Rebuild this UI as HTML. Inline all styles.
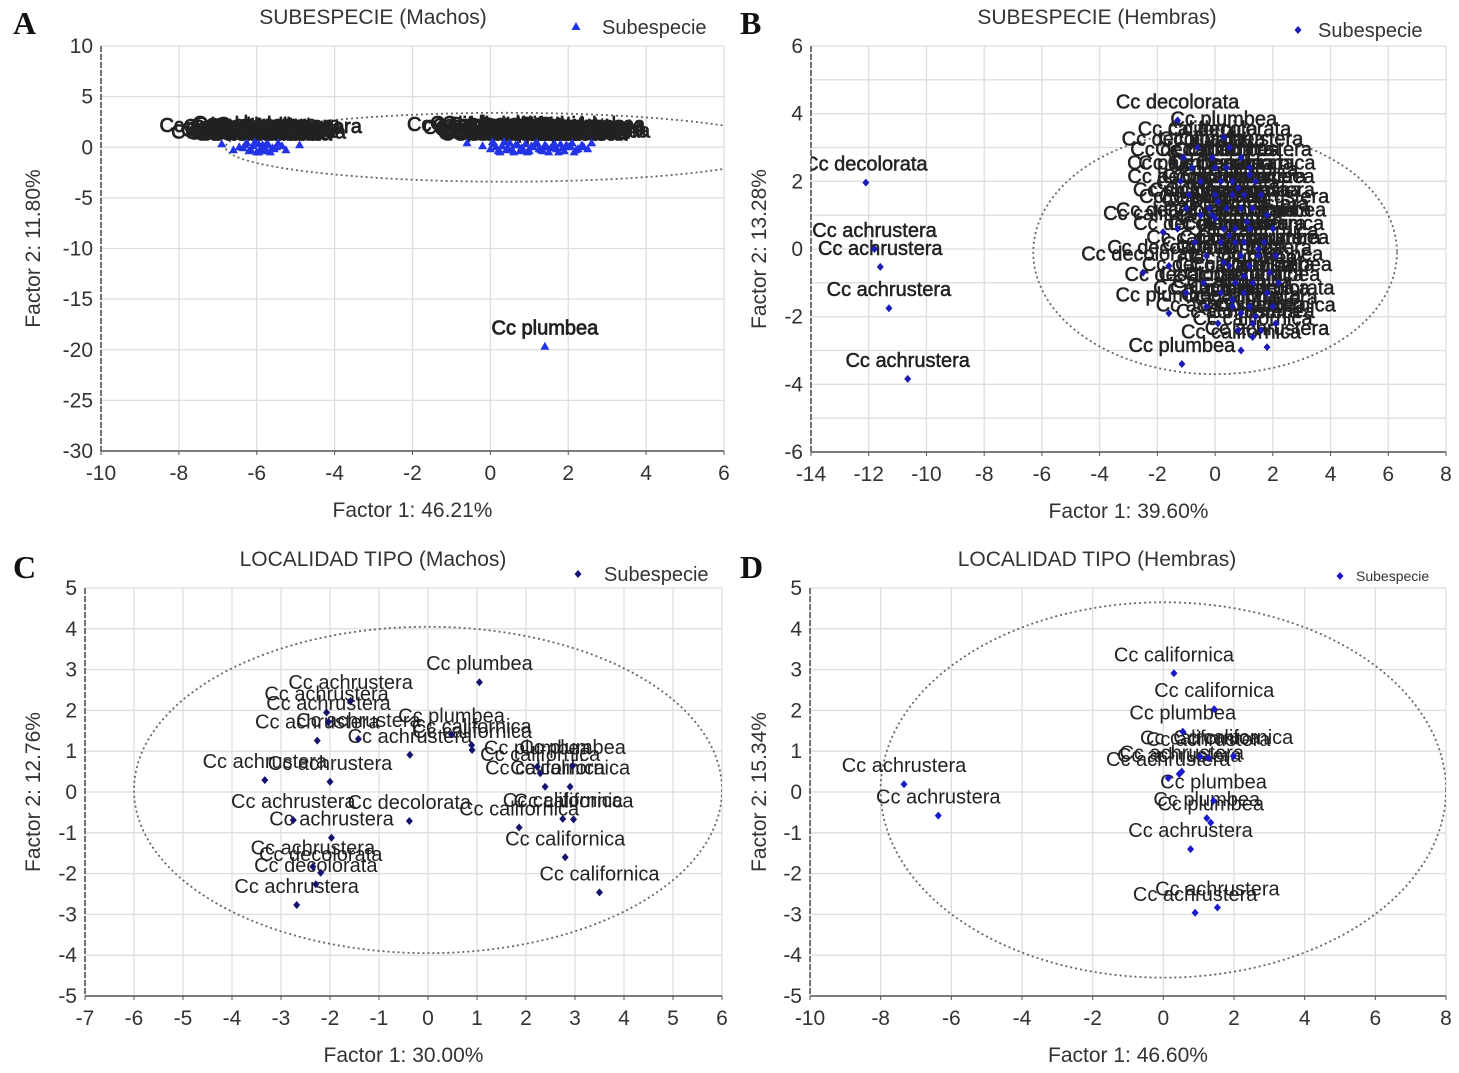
<!DOCTYPE html>
<html><head><meta charset="utf-8"><style>
html,body{margin:0;padding:0;background:#fff;}
svg{display:block;font-family:"Liberation Sans",Arial,sans-serif;}
</style></head><body>
<svg id="fig" width="1459" height="1073" viewBox="0 0 1459 1073" xmlns="http://www.w3.org/2000/svg"></svg>
<script>
// ---- data ----
const NAMES = {a:'Cc achrustera', d:'Cc decolorata', p:'Cc plumbea', c:'Cc californica'};
// Panel A
const A_x = [-6.6,-6.3,-6.2,-6.1,-6.0,-5.95,-5.9,-5.8,-5.75,-5.7,-5.6,-5.5,-5.45,-5.9,-6.05,-5.65,-6.9,-4.9,
  -6.45,-6.15,-5.85,-5.55,-6.25,-5.95,-5.35,-6.35,-5.75,-5.25,
  0,0.1,0.2,0.3,0.4,0.5,0.6,0.7,0.8,0.9,1.0,1.1,1.2,1.3,1.4,1.5,1.6,1.7,1.8,1.9,2.0,2.1,2.2,2.4,0.35,0.75,1.15,1.55,1.95,0.05,2.6,-0.6,
  0.15,0.45,0.65,0.85,1.05,1.25,1.45,1.65,1.85,2.05,2.25,0.25,0.55,0.95,1.35,1.75,2.15,2.35,-0.2,2.5,
  1.4];
const A_y = [-0.3,0.2,-0.4,0.1,-0.5,0.3,-0.2,0,-0.4,0.2,-0.1,0,0.4,-0.3,0.5,-0.5,0.3,0.2,
  0,-0.3,0.2,-0.2,0.4,-0.5,0.1,-0.1,0.3,-0.3,
  -0.2,0.3,-0.4,0.1,-0.3,0.4,-0.5,0.2,-0.1,0.3,-0.4,0,0.4,-0.3,0.2,-0.5,0.1,-0.2,0.3,-0.4,0,0.4,-0.3,0,0.5,-0.4,0.3,-0.1,0.2,0.5,0.4,0.4,
  0,-0.1,0.2,-0.3,0.1,-0.2,0,0.3,-0.1,0.1,-0.2,-0.5,-0.3,-0.5,-0.4,-0.5,-0.5,0.2,0.1,-0.2,
  -19.7];
const A_n = "adadapadcadpadadaapcpdpcdapcpdcpadcpacdpcpapcdpacppadcpcdapcdapcdcpdpcacapdcpdcapp";
// Panel B
const B_x = [-12.1,-11.8,-11.6,-11.3,-10.65,
  -1.3,0.3,0.5,-0.6,-0.1,0.9,-1.1,0.4,0.0,1.2,-0.8,0.2,0.6,-0.5,1.4,-1.2,0.6,0.0,1.0,-0.9,1.6,
  -0.2,0.4,1.3,-1.0,0.9,-0.5,-0.1,1.8,0.3,1.2,-1.3,2.0,0.7,-1.8,0.7,1.0,-0.7,1.7,0.2,0.9,1.5,-0.3,2.1,
  -1.6,0.5,1.2,-2.5,1.9,0.7,1.3,-0.4,2.2,1.0,-1.0,0.2,1.8,1.2,-0.3,0.6,2.0,-1.6,0.9,1.3,0.1,2.1,0.8,1.6,1.3,1.8,0.9,-1.15,
  0.8,0.1,1.1,0.5,1.5,0.3,1.0,0.6,1.4,0.0,1.2];
const B_y = [1.96,0.0,-0.53,-1.75,-3.84,
  3.8,3.3,3.0,3.0,2.7,2.7,2.7,2.4,2.4,2.4,2.4,2.0,2.0,2.0,2.0,2.0,1.6,1.6,1.6,1.6,1.6,
  1.2,1.2,1.2,1.2,1.2,1.0,1.0,1.0,0.6,0.6,0.6,0.6,0.6,0.5,0.2,0.2,0.2,0.2,0.2,-0.2,-0.2,-0.2,-0.2,
  -0.5,-0.5,-0.5,-0.7,-0.7,-1.0,-1.0,-1.0,-1.0,-1.3,-1.3,-1.3,-1.3,-1.7,-1.7,-1.7,-1.7,-1.9,-1.9,-2.2,-2.2,-2.2,-2.4,-2.4,-2.6,-2.9,-3.0,-3.4,
  1.8,1.4,0.8,0.4,0.0,-0.4,-0.8,-1.5,-2.0,0.9,2.2];
const B_n = "daaaadpdcpadpcadpdacpcpadpcdapcdpacddpdcpadcpdacpdpadpcadpcdapcpadpcpacapcacpcdapcdpcap";
// Panel C
const C_x = [1.05,-1.58,-2.07,-2.03,-2.26,-1.42,-0.37,0.48,0.89,0.90,-3.33,-2.00,2.23,2.29,2.95,2.39,2.90,2.75,2.97,1.86,2.80,3.50,-2.75,-0.38,-1.97,-2.35,-2.19,-2.29,-2.68];
const C_y = [2.69,2.23,1.95,1.72,1.26,1.30,0.91,1.41,1.15,1.03,0.29,0.25,0.62,0.46,0.64,0.13,0.13,-0.66,-0.67,-0.87,-1.60,-2.46,-0.69,-0.71,-1.12,-1.83,-1.98,-2.26,-2.77];
const C_n = "paaaaaapccaapcpcccccccadaadda";
// Panel D
const D_x = [0.30,1.44,0.55,1.04,1.98,1.27,0.52,0.45,0.14,1.42,1.23,1.34,0.77,1.53,0.90,-7.34,-6.37];
const D_y = [2.91,2.03,1.48,0.87,0.88,0.83,0.50,0.44,0.34,-0.21,-0.64,-0.75,-1.40,-2.83,-2.96,0.19,-0.58];
const D_n = "ccpccaaaapppaaaaa";
// Ticks
const A_xt=[-10,-8,-6,-4,-2,0,2,4,6], A_yt=[10,5,0,-5,-10,-15,-20,-25,-30];
const B_xt=[-14,-12,-10,-8,-6,-4,-2,0,2,4,6,8], B_yt=[6,4,2,0,-2,-4,-6];
const C_xt=[-7,-6,-5,-4,-3,-2,-1,0,1,2,3,4,5,6], C_yt=[5,4,3,2,1,0,-1,-2,-3,-4,-5];
const D_xt=[-10,-8,-6,-4,-2,0,2,4,6,8], D_yt=[5,4,3,2,1,0,-1,-2,-3,-4,-5];
// Ellipse params (data units): cx, cy, rx, ry
const A_ell=[0.4,0,7.2,3.4], B_ell=[0,-0.1,6.3,3.6], C_ell=[0,0.05,6.0,4.0], D_ell=[0,0.05,8.0,4.6];

const NS='http://www.w3.org/2000/svg';
const svg=document.getElementById('fig');
function mk(tag,attrs,parent){const e=document.createElementNS(NS,tag);for(const k in attrs)e.setAttribute(k,attrs[k]);(parent||svg).appendChild(e);return e;}

function panel(p){
  const g=mk('g',{});
  
  
  const sx=v=>p.x0+(v-p.xd[0])/(p.xd[1]-p.xd[0])*(p.x1-p.x0);
  const sy=v=>p.y0+(p.yd[0]-v)/(p.yd[0]-p.yd[1])*(p.y1-p.y0);
  const cid='clip'+p.id;
  const cp=mk('clipPath',{id:cid},g);
  mk('rect',{x:p.x0,y:p.y0,width:p.x1-p.x0,height:p.y1-p.y0},cp);
  for(let v=p.xd[0];v<=p.xd[1]+1e-9;v+=p.gx){
    const l=mk('line',{x1:sx(v),x2:sx(v),y1:p.y0,y2:p.y1,stroke:'#dedede','stroke-width':1.3},g);
    
    
  }
  for(let v=p.yd[1];v<=p.yd[0]+1e-9;v+=p.gy){
    const l=mk('line',{x1:p.x0,x2:p.x1,y1:sy(v),y2:sy(v),stroke:'#dedede','stroke-width':1.3},g);
    
    
  }
  const ax=mk('line',{x1:p.x0,x2:p.x1,y1:p.y1,y2:p.y1,stroke:'#555','stroke-width':1.6},g);
  
  
  const ay=mk('line',{x1:p.x0,x2:p.x0,y1:p.y0,y2:p.y1,stroke:'#555','stroke-width':1.6,'stroke-dasharray':'6 2'},g);
  
  
  p.xt.forEach(v=>{
    const t=mk('text',{x:sx(v),y:p.y1+29,'text-anchor':'middle','font-size':21,fill:'#333'},g);
    t.textContent=v;
    
    
    mk('line',{x1:sx(v),x2:sx(v),y1:p.y1,y2:p.y1+4,stroke:'#555'},g);
  });
  p.yt.forEach(v=>{
    const t=mk('text',{x:p.x0-8,y:sy(v)+7,'text-anchor':'end','font-size':21,fill:'#333'},g);
    t.textContent=v;
    
    
  });
  const e=p.ell;
  const el=mk('ellipse',{cx:sx(e[0]),cy:sy(e[1]),rx:Math.abs(sx(e[2])-sx(0)),ry:Math.abs(sy(e[3])-sy(0)),fill:'none',stroke:'#666','stroke-width':1.8,'stroke-dasharray':'2 3','clip-path':'url(#'+cid+')'},g);
  
  
  const pg=mk('g',{'clip-path':'url(#'+cid+')'},g);
  for(let i=0;i<p.xs.length;i++){
    const X=sx(p.xs[i]),Y=sy(p.ys[i]);
    const t=mk('text',{x:X,y:Y-12,'text-anchor':'middle','font-size':20,fill:'#222',stroke:'#222','stroke-width':p.sw},pg);
    t.textContent=NAMES[p.ns[i]];
    
    
  }
  for(let i=0;i<p.xs.length;i++){
    const X=sx(p.xs[i]),Y=sy(p.ys[i]);
    let m;
    if(p.tri) m=mk('polygon',{points:`${X},${Y-5} ${X-4.5},${Y+3} ${X+4.5},${Y+3}`,fill:p.col},pg);
    else m=mk('polygon',{points:`${X},${Y-4} ${X+3.5},${Y} ${X},${Y+4} ${X-3.5},${Y}`,fill:p.col},pg);
    
    
  }
  const tt=mk('text',{x:p.tx,y:p.ty,'text-anchor':'middle','font-size':21,fill:'#333'},g);
  tt.textContent=p.title;
  
  
  const xl=mk('text',{x:(p.x0+p.x1)/2,y:p.y1+66,'text-anchor':'middle','font-size':21,fill:'#333'},g);
  xl.textContent=p.xlab;
  
  
  const yc=(p.y0+p.y1)/2;
  const yl=mk('text',{x:p.ylx,y:yc,'text-anchor':'middle','font-size':21,fill:'#333',transform:`rotate(-90 ${p.ylx} ${yc})`},g);
  yl.textContent=p.ylab;
  
  
  const lt=mk('text',{x:p.letx,y:p.lety,'font-size':32,'font-weight':'bold','font-family':'Liberation Serif, serif',fill:'#111'},g);
  lt.textContent=p.id;
  
  
  const lg=mk('g',{},g);
  
  
  const LX=p.lgx,LY=p.lgy;
  if(p.tri) mk('polygon',{points:`${LX},${LY-5} ${LX-4.5},${LY+3} ${LX+4.5},${LY+3}`,fill:p.col},lg);
  else mk('polygon',{points:`${LX},${LY-4} ${LX+3.5},${LY} ${LX},${LY+4} ${LX-3.5},${LY}`,fill:p.col},lg);
  const ltx=mk('text',{x:LX+p.lgd,y:LY+p.lgs*0.35,'font-size':p.lgs,fill:'#333'},lg);
  ltx.textContent='Subespecie';
}

panel({id:'A',x0:101,x1:724,y0:46,y1:451,xd:[-10,6],yd:[10,-30],gx:2,gy:5,xt:A_xt,yt:A_yt,
  xs:A_x,ys:A_y,ns:A_n,ell:A_ell,tri:true,col:'#2233e6',sw:0.8,title:'SUBESPECIE (Machos)',tx:373,ty:24,
  xlab:'Factor 1: 46.21%',ylab:'Factor 2: 11.80%',ylx:40,letx:13,lety:34,lgx:576,lgy:27,lgd:26,lgs:20});
panel({id:'B',x0:811,x1:1446,y0:46,y1:452,xd:[-14,8],yd:[6,-6],gx:2,gy:1,xt:B_xt,yt:B_yt,
  xs:B_x,ys:B_y,ns:B_n,ell:B_ell,tri:false,col:'#1c1cb4',sw:0.5,title:'SUBESPECIE (Hembras)',tx:1097,ty:24,
  xlab:'Factor 1: 39.60%',ylab:'Factor 2: 13.28%',ylx:766,letx:740,lety:34,lgx:1298,lgy:30,lgd:20,lgs:20});
panel({id:'C',x0:85,x1:722,y0:588,y1:996,xd:[-7,6],yd:[5,-5],gx:1,gy:1,xt:C_xt,yt:C_yt,
  xs:C_x,ys:C_y,ns:C_n,ell:C_ell,tri:false,col:'#14146e',sw:0,title:'LOCALIDAD TIPO (Machos)',tx:373,ty:566,
  xlab:'Factor 1: 30.00%',ylab:'Factor 2: 12.76%',ylx:40,letx:13,lety:578,lgx:578,lgy:574,lgd:26,lgs:20});
panel({id:'D',x0:810,x1:1446,y0:588,y1:996,xd:[-10,8],yd:[5,-5],gx:2,gy:1,xt:D_xt,yt:D_yt,
  xs:D_x,ys:D_y,ns:D_n,ell:D_ell,tri:false,col:'#1a1acc',sw:0,title:'LOCALIDAD TIPO (Hembras)',tx:1097,ty:566,
  xlab:'Factor 1: 46.60%',ylab:'Factor 2: 15.34%',ylx:766,letx:740,lety:578,lgx:1340,lgy:576,lgd:16,lgs:14});
</script>
</body></html>
